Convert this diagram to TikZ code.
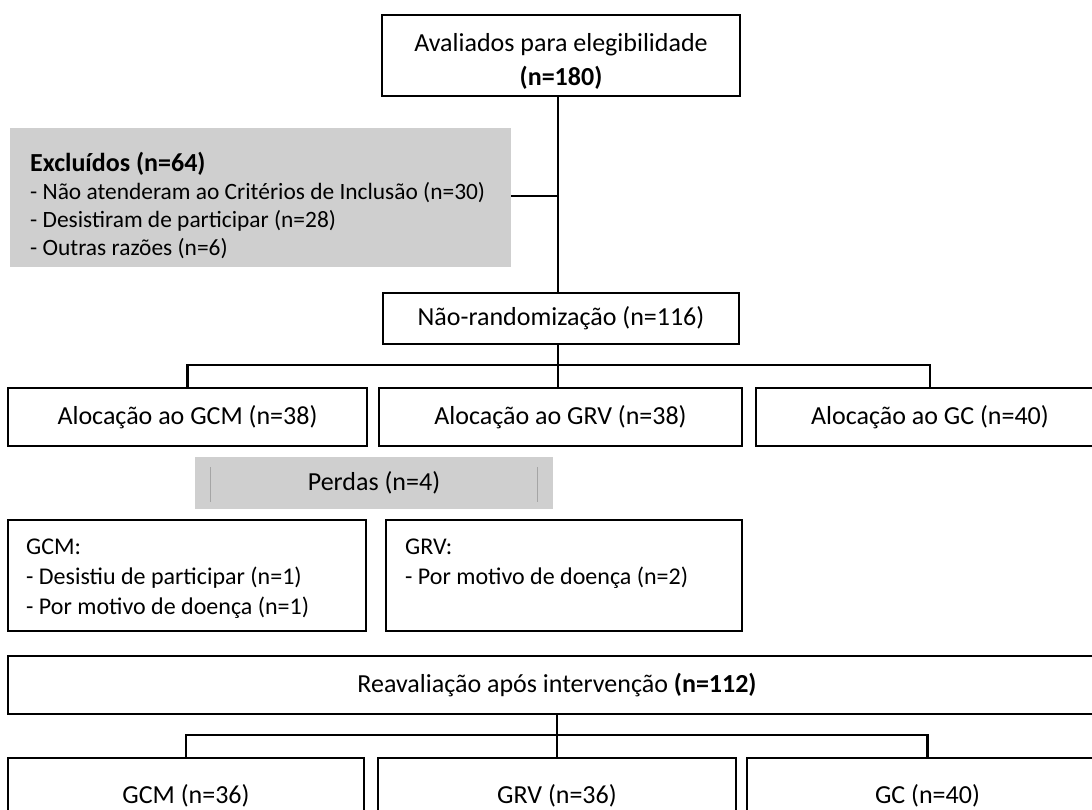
\documentclass[tikz,border=0pt]{standalone}
\usepackage{fontspec}
\setmainfont{Carlito}
\usetikzlibrary{calc}
\definecolor{boxgray}{RGB}{207,207,207}
\definecolor{tickgray}{RGB}{165,165,165}
\begin{document}
\begin{tikzpicture}[x=1pt,y=-1pt,
  box/.style={draw=black, line width=1.7pt, rectangle, inner sep=0pt, font=\fontsize{26}{34}\selectfont},
  graybox/.style={fill=boxgray, draw=none, rectangle, inner sep=0pt},
  bigtxt/.style={inner sep=0pt, font=\fontsize{26}{34}\selectfont},
  listtxt/.style={inner sep=0pt, align=left, anchor=west, font=\fontsize{24}{30}\selectfont},
  conn/.style={draw=black, line width=2.2pt},
  tick/.style={draw=tickgray, line width=1pt}]
\useasboundingbox (0,0) rectangle (1092,809);
\clip (0,0) rectangle (1092,809);
\fill[white] (0,0) rectangle (1092,809);

% top
\node[box, minimum width=358, minimum height=81] (top) at (561,55.5) {};
\node[bigtxt, align=center] (toptxt) at (561,61) {Avaliados para elegibilidade\\\textbf{(n=180)}};

% excluded
\node[graybox, minimum width=501, minimum height=139] (excl) at (260.5,197.5) {};
\node[listtxt, font=\fontsize{23.4}{28}\selectfont] (excltxt) at (30,205)
  {{\fontsize{26}{28}\selectfont\textbf{Excluídos (n=64)}}\\- Não atenderam ao Critérios de Inclusão (n=30)\\- Desistiram de participar (n=28)\\- Outras razões (n=6)};

% non-randomization
\node[box, minimum width=356, minimum height=51] (nonrand) at (561,318.5) {Não-randomização (n=116)};

% allocation
\node[box, minimum width=359, minimum height=58] (agcm) at (187.5,417) {Alocação ao GCM (n=38)};
\node[box, minimum width=363, minimum height=58] (agrv) at (560.5,417) {Alocação ao GRV (n=38)};
\node[box, minimum width=348, minimum height=58] (agc) at (930,417) {Alocação ao GC (n=40)};

% losses
\node[graybox, minimum width=358, minimum height=52, font=\fontsize{26}{34}\selectfont] (perdas) at (374,483) {Perdas (n=4)};
\draw[tick] ($(perdas.west)+(16,-16)$) -- ($(perdas.west)+(16,19)$);
\draw[tick] ($(perdas.east)+(-16,-16)$) -- ($(perdas.east)+(-16,19)$);

\node[box, minimum width=358, minimum height=111] (lgcm) at (187,575.5) {};
\node[listtxt] (lgcmtxt) at (26,579) {GCM:\\- Desistiu de participar (n=1)\\- Por motivo de doença (n=1)};
\node[box, minimum width=356, minimum height=111] (lgrv) at (564,575.5) {};
\node[listtxt] (lgrvtxt) at (405,564) {GRV:\\- Por motivo de doença (n=2)};

% reassessment
\node[box, minimum width=1098, minimum height=58] (reav) at (557,685) {Reavaliação após intervenção \textbf{(n=112)}};

% final groups
\node[box, minimum width=356, minimum height=76] (bgcm) at (186,796) {GCM (n=36)};
\node[box, minimum width=358, minimum height=76] (bgrv) at (557,796) {GRV (n=36)};
\node[box, minimum width=361, minimum height=76] (bgc) at (927.5,796) {GC (n=40)};

% connectors
\coordinate (j1) at (558,196);
\coordinate (h1) at (558,365);
\coordinate (h2) at (557,735);
\draw[conn] (top.south -| j1) -- (nonrand.north -| j1);
\draw[conn] (excl.east |- j1) -- (j1);
\draw[conn] (nonrand.south -| h1) -- (agrv.north -| h1);
\draw[conn] (agcm.north) -- (agcm.north |- h1) -- (agc.north |- h1) -- (agc.north);
\draw[conn] (reav.south -| h2) -- (bgrv.north -| h2);
\draw[conn] (bgcm.north) -- (bgcm.north |- h2) -- (bgc.north |- h2) -- (bgc.north);
\end{tikzpicture}
\end{document}
